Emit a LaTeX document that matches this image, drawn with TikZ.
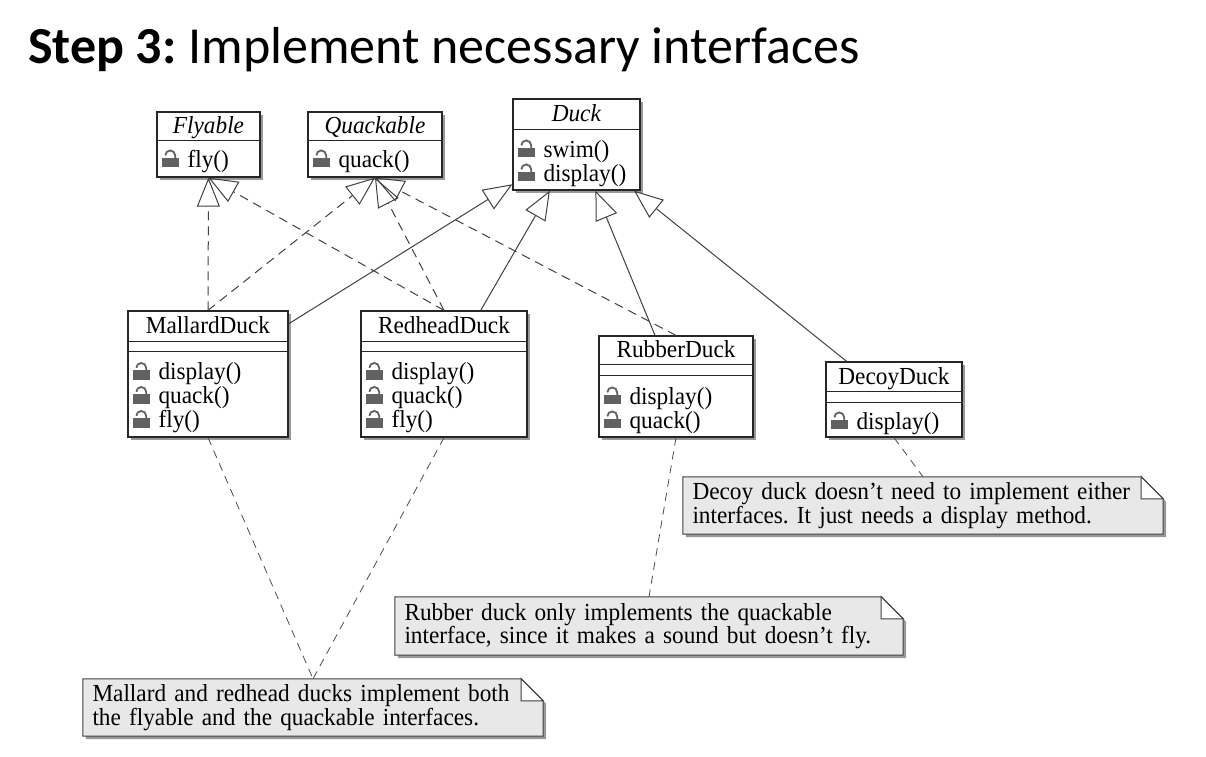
\documentclass[tikz,border=0pt]{standalone}
\usepackage{fontspec}
\setmainfont[FakeStretch=0.95]{Liberation Serif}
\newfontfamily\titlefont{Carlito}
\usetikzlibrary{arrows.meta, shadows, backgrounds}
\frenchspacing

\newcommand\umlfont{\fontsize{24.5}{24}\selectfont}
\newcommand\padlock{\tikz[x=1pt,y=1pt,baseline=0pt]{\fill[black!62] (0,0) rectangle (17,9.5); \draw[black!62,line width=1.8pt] (3.8,12) arc (180:0:4.9) -- (13.6,9.5);}}
\newcommand\meth[1]{\padlock\hspace{9pt}#1}
\newcommand\notefold[1]{%
  \draw[noteshape] (#1.south west) -- (#1.north west) -- ([xshift=-22pt]#1.north east) -- ([yshift=-22pt]#1.north east) -- (#1.south east) -- cycle;
  \draw[notecorner] ([xshift=-22pt]#1.north east) |- ([yshift=-22pt]#1.north east) -- cycle;}

\tikzset{
  umlbox/.style={draw=black!85, line width=1.3pt, fill=white, inner sep=0pt,
    drop shadow={shadow xshift=3pt, shadow yshift=-3pt, fill=black!40, opacity=1}},
  umlname/.style={inner sep=0pt, text height=16pt, text depth=0pt, font=\umlfont},
  umlops/.style={anchor=north west, inner sep=0pt, align=left, font=\umlfont},
  umlsep/.style={draw=black!85, line width=1.1pt},
  realize/.style={draw=black!75, line width=1pt, dash pattern=on 9pt off 6pt,
    -{Triangle[open, length=29pt, width=23pt]}},
  generalize/.style={draw=black!75, line width=1pt,
    -{Triangle[open, length=29pt, width=23pt]}},
  notelink/.style={draw=black!70, line width=0.8pt, dash pattern=on 8pt off 6pt},
  notetext/.style={inner xsep=9.5pt, inner ysep=0pt, align=left,
    font=\fontsize{24.5}{21.5}\selectfont},
  noteshape/.style={draw=black!75, line width=1pt, fill=black!9,
    drop shadow={shadow xshift=3pt, shadow yshift=-3pt, fill=black!40, opacity=1}},
  notecorner/.style={draw=black!75, line width=1pt, fill=white},
}

\begin{document}
\begin{tikzpicture}[x=1pt,y=-1pt]
\useasboundingbox (0,0) rectangle (1206,756);

\node[anchor=base west, inner sep=0pt, font=\titlefont\fontsize{52}{60}\selectfont] (title) at (28,63) {\textbf{Step 3:} Implement necessary interfaces};

% interfaces
\node[umlbox, minimum width=103pt, minimum height=65pt] (flyable) at (208.5,144.5) {};
\node[umlname] (flyablename) at ([yshift=-14.5pt]flyable.north) {\textit{Flyable}};
\draw[umlsep] ([yshift=-29pt]flyable.north west) -- ([yshift=-29pt]flyable.north east);
\node[umlops] (flyableops) at ([xshift=5pt,yshift=-38pt]flyable.north west) {\meth{fly()}};

\node[umlbox, minimum width=134pt, minimum height=65pt] (quackable) at (375,144.5) {};
\node[umlname] (quackablename) at ([yshift=-14.5pt]quackable.north) {\textit{Quackable}};
\draw[umlsep] ([yshift=-29pt]quackable.north west) -- ([yshift=-29pt]quackable.north east);
\node[umlops] (quackableops) at ([xshift=5pt,yshift=-38pt]quackable.north west) {\meth{quack()}};

\node[umlbox, minimum width=127pt, minimum height=91pt] (duck) at (576.5,144.5) {};
\node[umlname] (duckname) at ([yshift=-15.5pt]duck.north) {\textit{Duck}};
\draw[umlsep] ([yshift=-31pt]duck.north west) -- ([yshift=-31pt]duck.north east);
\node[umlops] (duckops) at ([xshift=5pt,yshift=-41pt]duck.north west) {\meth{swim()}\\\meth{display()}};

% ducks
\node[umlbox, minimum width=160pt, minimum height=126pt] (mallard) at (208,374) {};
\node[umlname] (mallardname) at ([yshift=-15.5pt]mallard.north) {MallardDuck};
\draw[umlsep] ([yshift=-31pt]mallard.north west) -- ([yshift=-31pt]mallard.north east);
\draw[umlsep] ([yshift=-41pt]mallard.north west) -- ([yshift=-41pt]mallard.north east);
\node[umlops] (mallardops) at ([xshift=5pt,yshift=-51.5pt]mallard.north west) {\meth{display()}\\\meth{quack()}\\\meth{fly()}};

\node[umlbox, minimum width=166pt, minimum height=126pt] (redhead) at (444,374) {};
\node[umlname] (redheadname) at ([yshift=-15.5pt]redhead.north) {RedheadDuck};
\draw[umlsep] ([yshift=-31pt]redhead.north west) -- ([yshift=-31pt]redhead.north east);
\draw[umlsep] ([yshift=-41pt]redhead.north west) -- ([yshift=-41pt]redhead.north east);
\node[umlops] (redheadops) at ([xshift=5pt,yshift=-51.5pt]redhead.north west) {\meth{display()}\\\meth{quack()}\\\meth{fly()}};

\node[umlbox, minimum width=154pt, minimum height=101pt] (rubber) at (676,386.5) {};
\node[umlname] (rubbername) at ([yshift=-14.5pt]rubber.north) {RubberDuck};
\draw[umlsep] ([yshift=-29pt]rubber.north west) -- ([yshift=-29pt]rubber.north east);
\draw[umlsep] ([yshift=-40pt]rubber.north west) -- ([yshift=-40pt]rubber.north east);
\node[umlops] (rubberops) at ([xshift=5pt,yshift=-51pt]rubber.north west) {\meth{display()}\\\meth{quack()}};

\node[umlbox, minimum width=136pt, minimum height=75pt] (decoy) at (894,399.5) {};
\node[umlname] (decoyname) at ([yshift=-15pt]decoy.north) {DecoyDuck};
\draw[umlsep] ([yshift=-30pt]decoy.north west) -- ([yshift=-30pt]decoy.north east);
\draw[umlsep] ([yshift=-41pt]decoy.north west) -- ([yshift=-41pt]decoy.north east);
\node[umlops] (decoyops) at ([xshift=5pt,yshift=-50pt]decoy.north west) {\meth{display()}};

% notes
\node[notetext, minimum width=460pt, minimum height=57pt, text width=441pt] (mallardnote) at (313,707.5) {Mallard and redhead ducks implement both\\the flyable and the quackable interfaces.};
\node[notetext, minimum width=508pt, minimum height=58pt, text width=489pt] (rubbernote) at (649,626) {Rubber duck only implements the quackable\\interface, since it makes a sound but doesn't fly.};
\node[notetext, minimum width=480pt, minimum height=57pt, text width=461pt] (decoynote) at (923,505.5) {Decoy duck doesn't need to implement either\\interfaces. It just needs a display method.};
\begin{scope}[on background layer]
\notefold{mallardnote}
\notefold{rubbernote}
\notefold{decoynote}
\end{scope}

% realizations
\draw[realize] (mallard.north) -- (flyable.south);
\draw[realize] (redhead.north) -- (flyable.south);
\draw[realize] (mallard.north) -- (quackable.south);
\draw[realize] (redhead.north) -- (quackable.south);
\draw[realize] (rubber.north) -- (quackable.south);

% generalizations
\draw[generalize] (mallard) -- (duck);
\draw[generalize] (redhead) -- (duck);
\draw[generalize] (rubber) -- (duck);
\draw[generalize] (decoy) -- (duck);

% note links
\draw[notelink] (mallard.south) -- (mallardnote.north);
\draw[notelink] (redhead.south) -- (mallardnote.north);
\draw[notelink] (rubber.south) -- (rubbernote.north);
\draw[notelink] (decoy.south) -- (decoynote.north);
\end{tikzpicture}
\end{document}
